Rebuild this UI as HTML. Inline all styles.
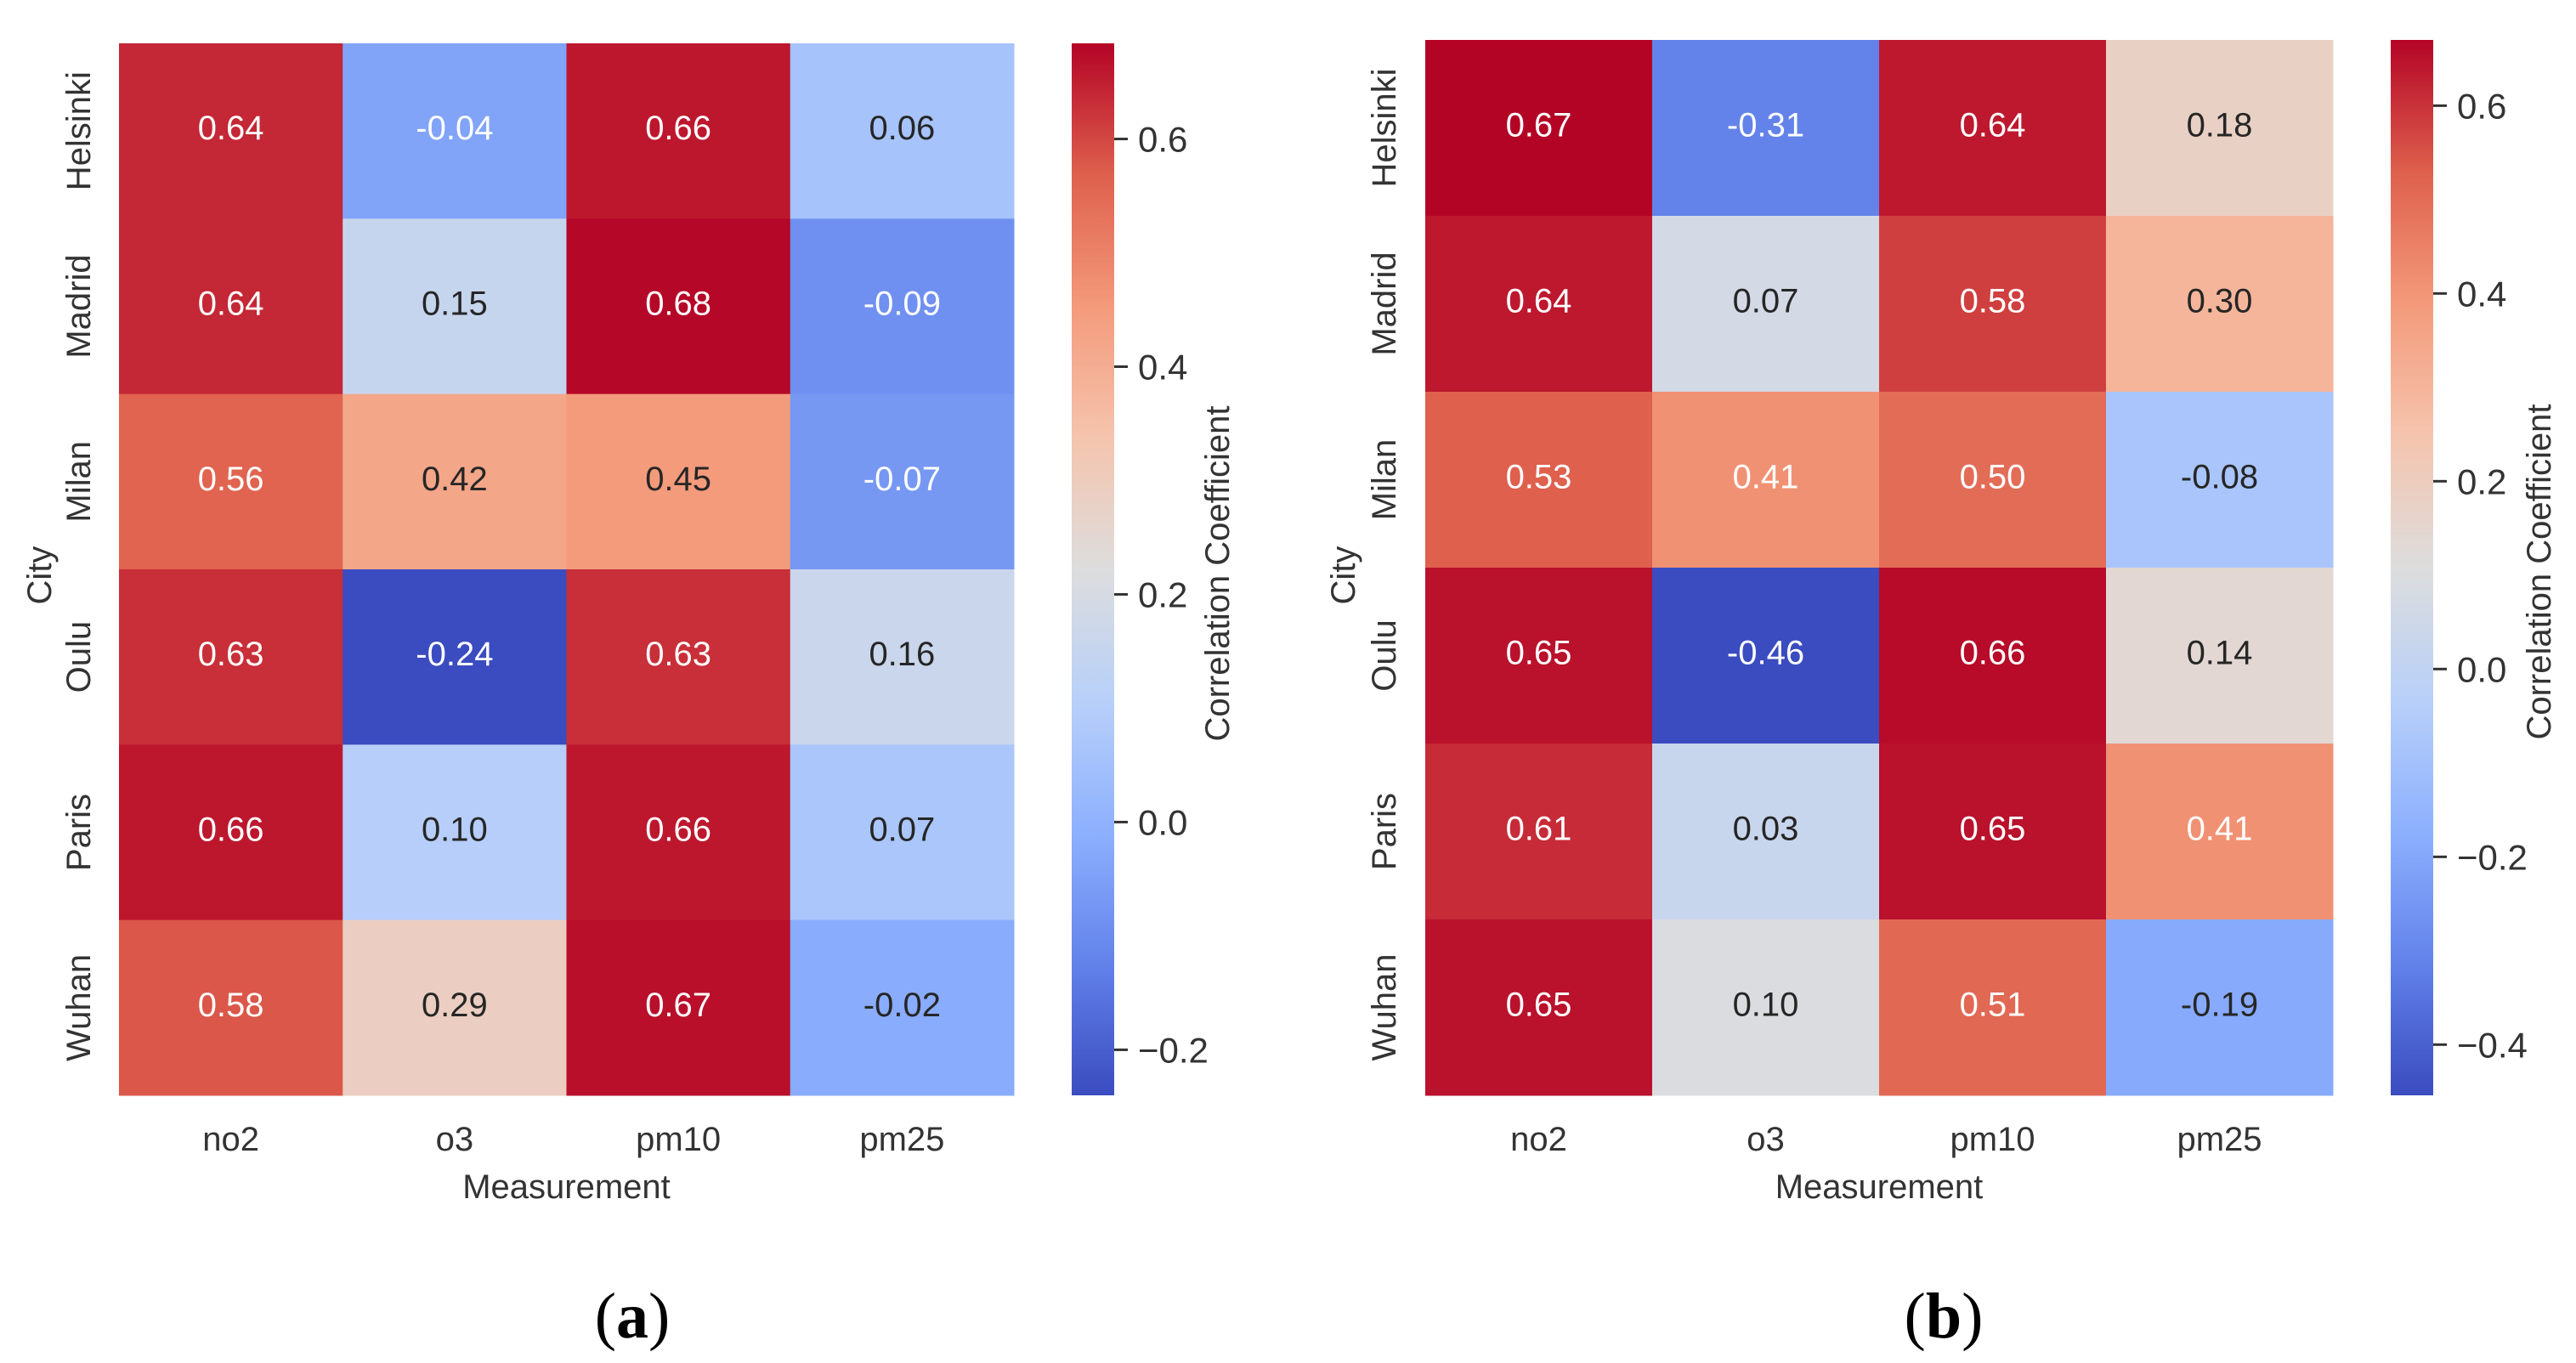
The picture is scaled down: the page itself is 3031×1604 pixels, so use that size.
<!DOCTYPE html>
<html><head><meta charset="utf-8"><style>
html,body{margin:0;padding:0;background:#fff;}
svg{display:block;}
text{font-family:"Liberation Sans",Arial,sans-serif;}
</style></head><body>
<svg id="fig" width="3031" height="1604" viewBox="0 0 3031 1604" xmlns="http://www.w3.org/2000/svg">
<defs>
<linearGradient id="cwgrad" x1="0" y1="1" x2="0" y2="0">
<stop offset="0" stop-color="rgb(59,76,192)"/>
<stop offset="0.125" stop-color="rgb(98,130,234)"/>
<stop offset="0.25" stop-color="rgb(141,176,254)"/>
<stop offset="0.375" stop-color="rgb(184,208,249)"/>
<stop offset="0.5" stop-color="rgb(221,221,221)"/>
<stop offset="0.625" stop-color="rgb(245,196,173)"/>
<stop offset="0.75" stop-color="rgb(244,154,123)"/>
<stop offset="0.875" stop-color="rgb(222,96,77)"/>
<stop offset="1" stop-color="rgb(180,4,38)"/>
</linearGradient>
</defs>
<g id="panelA"></g>
<g id="panelB"></g>
</svg>
<script>
const cities = ["Helsinki","Madrid","Milan","Oulu","Paris","Wuhan"];
const measurements = ["no2","o3","pm10","pm25"];
const valuesA = [
 [0.64,-0.04,0.66,0.06],
 [0.64,0.15,0.68,-0.09],
 [0.56,0.42,0.45,-0.07],
 [0.63,-0.24,0.63,0.16],
 [0.66,0.10,0.66,0.07],
 [0.58,0.29,0.67,-0.02]
];
const valuesB = [
 [0.67,-0.31,0.64,0.18],
 [0.64,0.07,0.58,0.30],
 [0.53,0.41,0.50,-0.08],
 [0.65,-0.46,0.66,0.14],
 [0.61,0.03,0.65,0.41],
 [0.65,0.10,0.51,-0.19]
];
const ticksA = [-0.2,0.0,0.2,0.4,0.6];
const ticksB = [-0.4,-0.2,0.0,0.2,0.4,0.6];
const rangeA = [-0.24,0.684];
const rangeB = [-0.454,0.67];

const NS="http://www.w3.org/2000/svg";
const cmapStops=[[0,59,76,192],[0.125,98,130,234],[0.25,141,176,254],[0.375,184,208,249],[0.5,221,221,221],[0.625,245,196,173],[0.75,244,154,123],[0.875,222,96,77],[1,180,4,38]];
function cmap(t){
  t=Math.max(0,Math.min(1,t));
  for(let i=1;i<cmapStops.length;i++){
    const a=cmapStops[i-1],b=cmapStops[i];
    if(t<=b[0]){const f=(t-a[0])/(b[0]-a[0]);return [0,1,2].map(k=>Math.round(a[k+1]+(b[k+1]-a[k+1])*f));}
  }
  return [180,4,38];
}
function lum(c){
  const l=c.map(v=>{v/=255;return v<=0.03928?v/12.92:Math.pow((v+0.055)/1.055,2.4);});
  return 0.2126*l[0]+0.7152*l[1]+0.0722*l[2];
}
function mk(tag,attrs,parent){const e=document.createElementNS(NS,tag);for(const k in attrs)e.setAttribute(k,attrs[k]);parent.appendChild(e);return e;}

function drawPanel(g,vals,range,ticks,L,cfg){
  const x0=L.x0,x1=L.x1,y0=L.y0,y1=L.y1;
  const cw=(x1-x0)/measurements.length, rh=(y1-y0)/cities.length;
  const xs=j=>x0+j*cw, ys=i=>y0+i*rh;
  const norm=v=>(v-range[0])/(range[1]-range[0]);
  vals.forEach((row,i)=>row.forEach((v,j)=>{
    const c=cmap(norm(v));
    const r=mk('rect',{x:xs(j),y:ys(i),width:cw+0.5,height:rh+0.5,fill:`rgb(${c})`},g);
    
    
    const t=mk('text',{x:xs(j)+cw/2,y:ys(i)+rh/2+10,'text-anchor':'middle','font-size':40,fill:lum(c)>0.408?'#262626':'#ffffff'},g);
    t.textContent=v.toFixed(2);
    
    
  }));
  cities.forEach((c,i)=>{
    const cx=L.ylabX, cy=ys(i)+rh/2;
    const t=mk('text',{x:cx,y:cy,'text-anchor':'middle','font-size':40,fill:'#333',transform:`rotate(-90 ${cx} ${cy})`},g);
    t.textContent=c;
    
    
  });
  measurements.forEach((m,j)=>{
    const t=mk('text',{x:xs(j)+cw/2,y:1354,'text-anchor':'middle','font-size':40,fill:'#333'},g);
    t.textContent=m;
    
    
  });
  const xt=mk('text',{x:(x0+x1)/2,y:1410,'text-anchor':'middle','font-size':40,fill:'#333'},g);
  xt.textContent='Measurement';
  
  
  const cyX=L.cityX, cyY=677;
  const yt=mk('text',{x:cyX,y:cyY,'text-anchor':'middle','font-size':40,fill:'#333',transform:`rotate(-90 ${cyX} ${cyY})`},g);
  yt.textContent='City';
  
  
  const cb=mk('rect',{x:L.cbx,y:y0,width:50,height:y1-y0,fill:'url(#cwgrad)'},g);
  
  
  const cy=v=>y1-norm(v)*(y1-y0);
  ticks.forEach(v=>{
    const tl=mk('line',{x1:L.cbx+50,x2:L.cbx+66,y1:cy(v),y2:cy(v),stroke:'#333','stroke-width':3},g);
    
    
    const t=mk('text',{x:L.cbx+78,y:cy(v)+15,'font-size':42,fill:'#333'},g);
    t.textContent=(v<0?'\u2212':'')+Math.abs(v).toFixed(1);
    
    
  });
  const lx=L.cbLabelX, ly=(y0+y1)/2+5;
  const ct=mk('text',{x:lx,y:ly,'text-anchor':'middle','font-size':40,fill:'#333',transform:`rotate(-90 ${lx} ${ly})`},g);
  ct.textContent='Correlation Coefficient';
  
  
  const pl=mk('text',{x:L.capX,y:1574,'text-anchor':'middle','font-size':76,fill:'#000'},g);
  pl.style.fontFamily='"Liberation Serif",serif';
  pl.innerHTML='(<tspan font-weight="bold">'+cfg+'</tspan>)';
  
  
}
drawPanel(document.getElementById('panelA'),valuesA,rangeA,ticksA,
 {x0:140,x1:1193,y0:51,y1:1289,ylabX:106,cityX:60,cbx:1261,cbLabelX:1446,capX:744},'a');
drawPanel(document.getElementById('panelB'),valuesB,rangeB,ticksB,
 {x0:1677,x1:2745,y0:47,y1:1289,ylabX:1642,cityX:1594,cbx:2813,cbLabelX:3001,capX:2287},'b');
</script>
</body></html>
